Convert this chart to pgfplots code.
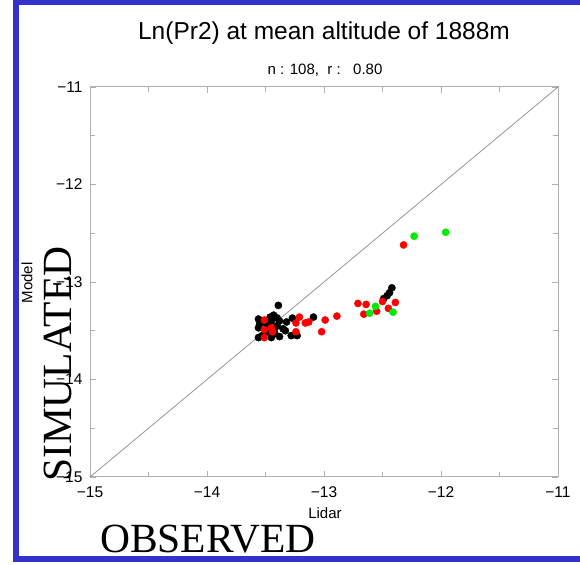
\documentclass[border=0pt]{standalone}
\usepackage{fontspec}
\setmainfont{Liberation Sans}
\newfontfamily\seriffont{Liberation Serif}
\usepackage{pgfplots}
\pgfplotsset{compat=1.18}
\definecolor{frameblue}{RGB}{51,51,204}
\definecolor{axgray}{RGB}{175,175,175}
\definecolor{diaggray}{RGB}{150,150,150}
\definecolor{ptgreen}{RGB}{0,235,0}
\begin{document}
\begin{tikzpicture}[x=1pt,y=1pt]
\useasboundingbox (0,0) rectangle (580,564);
\fill[white] (0,0) rectangle (580,564);
\fill[frameblue] (12.5,2) rectangle (19,564);
\fill[frameblue] (12.5,558.5) rectangle (580,564);
\fill[frameblue] (12.5,2) rectangle (580,7.5);
\begin{axis}[
  at={(90pt,87pt)}, anchor=south west,
  width=468pt, height=390pt, scale only axis,
  xmin=-15, xmax=-11, ymin=-15, ymax=-11,
  xtick={-15,-14,-13,-12,-11}, ytick={-15,-14,-13,-12,-11},
  xticklabels={−15,−14,−13,−12,−11},
  yticklabels={−15,−14,−13,−12,−11},
  minor tick num=1,
  tick align=inside,
  axis line style={axgray, line width=1pt},
  major tick style={axgray, line width=0.8pt},
  minor tick style={axgray, line width=0.8pt},
  major tick length=6pt, minor tick length=5pt,
  ticklabel style={font=\fontsize{15.5}{18}\selectfont},
  xticklabel style={yshift=-6pt},
  yticklabel style={xshift=-4pt},
  clip=false,
]
\addplot[diaggray, line width=0.8pt] coordinates {(-15,-15) (-11,-11)};
% black points
\addplot[only marks, mark=*, mark size=3.6pt, black, mark options={draw=black, fill=black}] coordinates {
(-13.39,-13.24) (-12.42,-13.06) (-12.44,-13.11) (-12.46,-13.14) (-12.49,-13.17)
(-13.09,-13.36) (-13.27,-13.37) (-13.32,-13.41) (-13.38,-13.40) (-13.43,-13.34)
(-13.46,-13.36) (-13.56,-13.38) (-13.56,-13.47) (-13.56,-13.57) (-13.38,-13.56)
(-13.28,-13.55) (-13.23,-13.55) (-13.42,-13.53) (-13.50,-13.42) (-13.48,-13.45)
(-13.53,-13.40) (-13.45,-13.40) (-13.40,-13.45) (-13.35,-13.48) (-13.50,-13.52)
(-13.53,-13.55) (-13.45,-13.57) (-13.33,-13.50) (-13.40,-13.37) (-13.55,-13.43)
(-13.47,-13.50) (-13.42,-13.47)
};
% red points
\addplot[only marks, mark=*, mark size=3.6pt, red, mark options={draw=red, fill=red}] coordinates {
(-12.32,-12.62) (-12.71,-13.22) (-12.64,-13.23) (-12.50,-13.20) (-12.39,-13.21)
(-12.45,-13.27) (-12.55,-13.30) (-12.66,-13.33) (-12.89,-13.35) (-12.99,-13.39)
(-13.02,-13.51) (-13.13,-13.41) (-13.16,-13.42) (-13.21,-13.36) (-13.24,-13.42)
(-13.24,-13.51) (-13.51,-13.39) (-13.51,-13.49) (-13.45,-13.47) (-13.44,-13.51)
(-13.51,-13.57)
};
% green points
\addplot[only marks, mark=*, mark size=3.6pt, ptgreen, mark options={draw=ptgreen, fill=ptgreen}] coordinates {
(-11.96,-12.49) (-12.23,-12.53) (-12.56,-13.25) (-12.61,-13.32) (-12.41,-13.31)
};
\end{axis}
\node[font=\fontsize{24.5}{28}\selectfont, anchor=base] at (324,524) {Ln(Pr2) at mean altitude of 1888m};
\node[font=\fontsize{15}{18}\selectfont, anchor=base] at (325,489) {n : 108,\ \ r :\ \ \ 0.80};
\node[font=\fontsize{15}{18}\selectfont, rotate=90] at (27,281) {Model};
\node[font=\fontsize{15}{18}\selectfont] at (325,51) {Lidar};
\node[font=\seriffont\fontsize{41.5}{48}\selectfont, anchor=base west, inner sep=0pt] at (100,12) {OBSERVED};
\node[font=\seriffont\fontsize{41.5}{48}\selectfont, rotate=90, anchor=base west, inner sep=0pt] at (71.5,82) {SIMULATED};
\end{tikzpicture}
\end{document}
